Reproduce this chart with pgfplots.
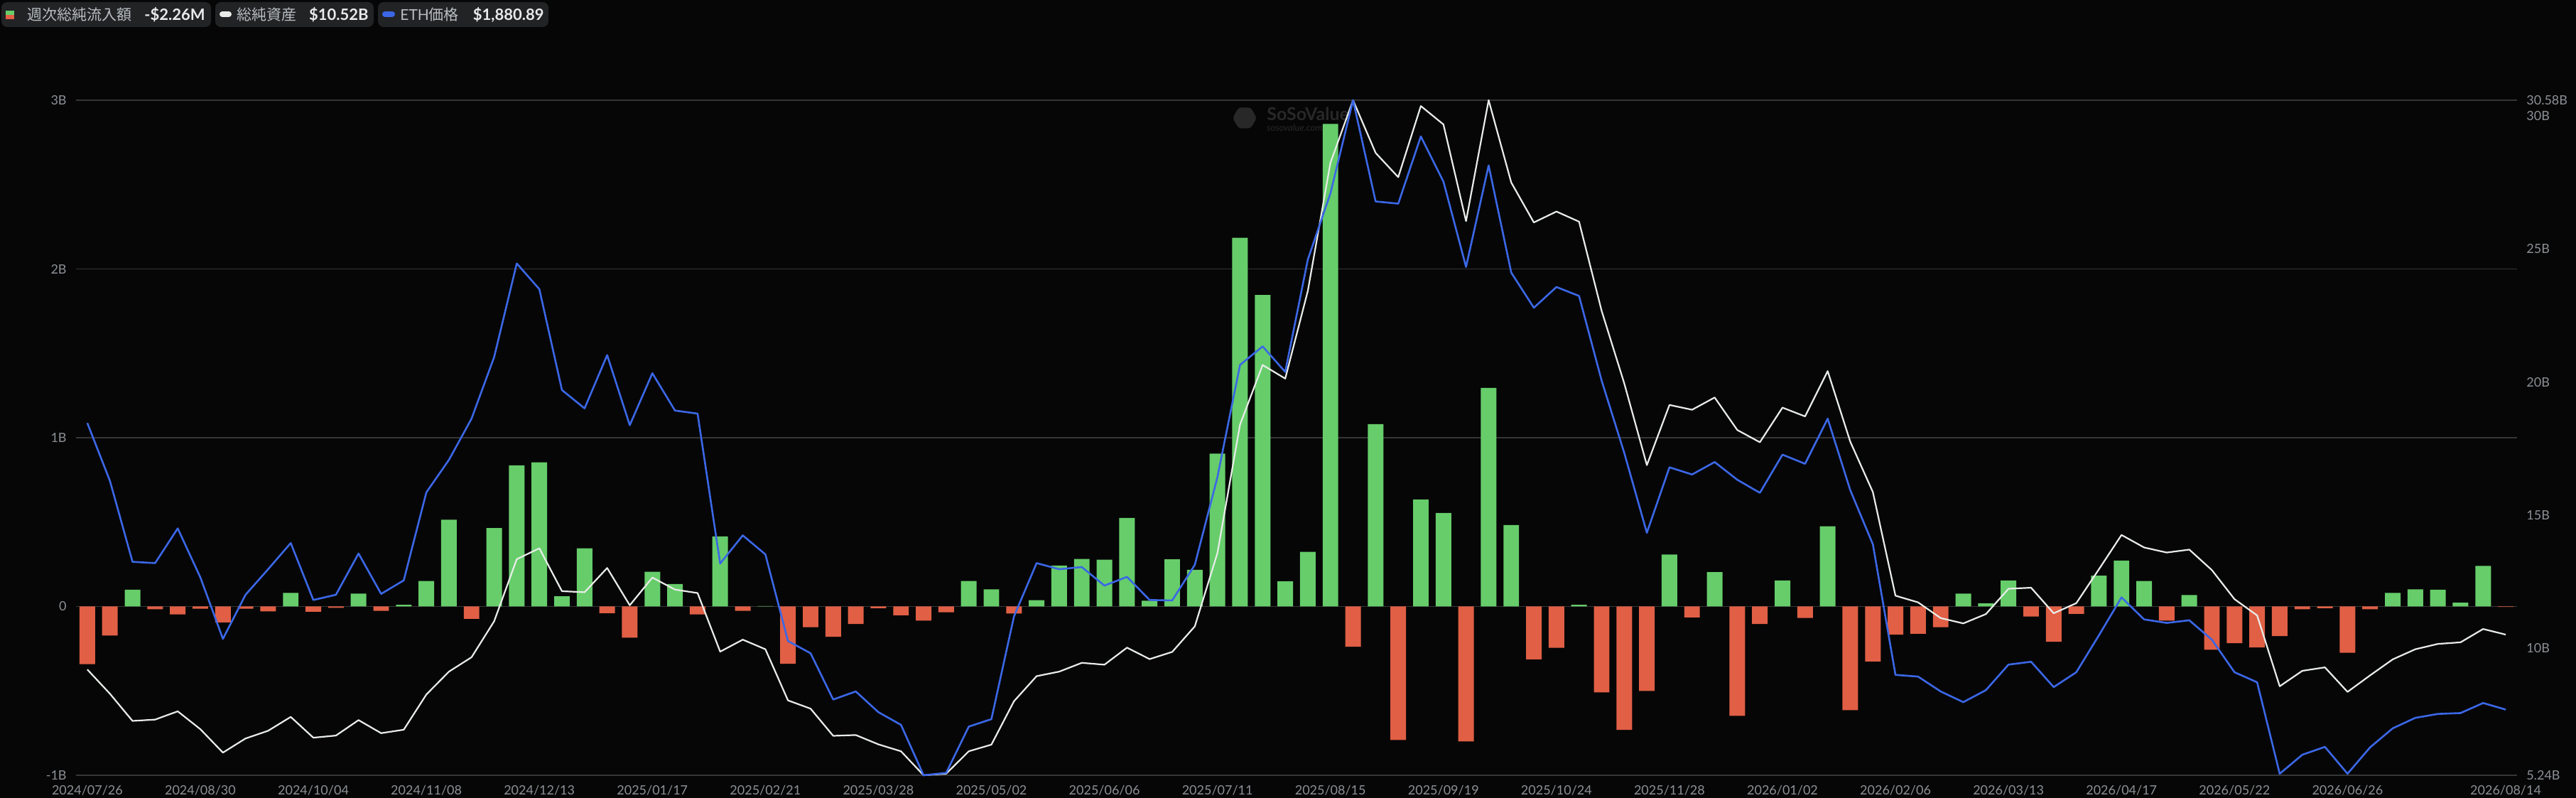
\documentclass[border=0pt]{standalone}
\usepackage{fontspec}
\setmainfont{Lato}
\newfontfamily\cjk{Noto Sans CJK JP}
\usepackage{pgfplots}
\usepackage{pgfplotstable}
\pgfplotsset{compat=1.18}
\usetikzlibrary{shapes.geometric}

\definecolor{bgc}{RGB}{6,6,6}
\definecolor{gridc}{RGB}{54,54,54}
\definecolor{tickc}{RGB}{140,144,149}
\definecolor{greenc}{RGB}{102,205,106}
\definecolor{redc}{RGB}{224,95,69}
\definecolor{whitec}{RGB}{232,236,232}
\definecolor{bluec}{RGB}{59,103,230}
\definecolor{boxc}{RGB}{33,35,37}
\definecolor{labc}{RGB}{185,190,195}
\definecolor{valc}{RGB}{232,234,236}
\definecolor{wmc}{RGB}{40,40,40}

% week index, weekly net inflow (B USD), total net assets (B USD), ETH price (USD)
\pgfplotstableread{
i flow assets eth
0 -0.342 9.21 3194
1 -0.172 8.30 2929
2 0.099 7.28 2558
3 -0.016 7.33 2552
4 -0.047 7.64 2711
5 -0.013 6.97 2487
6 -0.094 6.09 2205
7 -0.013 6.62 2407
8 -0.029 6.91 2524
9 0.081 7.43 2644
10 -0.031 6.65 2383
11 -0.008 6.73 2407
12 0.076 7.31 2596
13 -0.026 6.82 2411
14 0.010 6.95 2473
15 0.151 8.27 2876
16 0.514 9.13 3025
17 -0.073 9.67 3214
18 0.465 11.02 3496
19 0.836 13.35 3925
20 0.854 13.76 3807
21 0.060 12.15 3345
22 0.345 12.11 3261
23 -0.039 13.02 3505
24 -0.185 11.62 3184
25 0.206 12.66 3422
26 0.133 12.21 3251
27 -0.047 12.08 3237
28 0.415 9.88 2550
29 -0.026 10.33 2679
30 0.003 9.97 2592
31 -0.339 8.05 2195
32 -0.123 7.74 2139
33 -0.180 6.72 1927
34 -0.104 6.75 1964
35 -0.010 6.40 1869
36 -0.052 6.14 1811
37 -0.084 5.24 1580
38 -0.034 5.30 1591
39 0.151 6.14 1803
40 0.102 6.39 1837
41 -0.042 8.02 2308
42 0.037 8.96 2552
43 0.243 9.13 2524
44 0.282 9.46 2534
45 0.277 9.39 2449
46 0.525 10.03 2489
47 0.034 9.60 2383
48 0.279 9.87 2381
49 0.217 10.83 2544
50 0.906 13.58 2946
51 2.185 18.40 3460
52 1.846 20.64 3545
53 0.149 20.13 3428
54 0.324 23.42 3943
55 2.859 28.23 4246
56 -0.238 30.58 4673
57 1.081 28.60 4209
58 -0.791 27.69 4199
59 0.634 30.36 4507
60 0.554 29.67 4300
61 -0.799 26.04 3909
62 1.295 30.58 4374
63 0.483 27.49 3883
64 -0.313 25.99 3722
65 -0.245 26.40 3817
66 0.010 26.02 3776
67 -0.509 22.67 3388
68 -0.731 19.95 3057
69 -0.501 16.88 2691
70 0.308 19.14 2991
71 -0.065 18.96 2958
72 0.204 19.42 3015
73 -0.648 18.20 2934
74 -0.104 17.74 2874
75 0.154 19.04 3049
76 -0.068 18.71 3007
77 0.475 20.41 3214
78 -0.614 17.76 2886
79 -0.326 15.87 2638
80 -0.167 11.98 2040
81 -0.162 11.73 2032
82 -0.123 11.14 1964
83 0.076 10.94 1915
84 0.018 11.29 1970
85 0.154 12.24 2087
86 -0.060 12.28 2100
87 -0.209 11.32 1984
88 -0.044 11.70 2052
89 0.183 12.97 2221
90 0.272 14.26 2395
91 0.151 13.79 2294
92 -0.084 13.60 2278
93 0.068 13.71 2290
94 -0.256 12.94 2201
95 -0.217 11.85 2052
96 -0.243 11.24 2006
97 -0.175 8.58 1587
98 -0.016 9.16 1674
99 -0.010 9.29 1710
100 -0.274 8.37 1587
101 -0.016 8.99 1708
102 0.081 9.59 1795
103 0.102 9.97 1843
104 0.099 10.17 1861
105 0.023 10.23 1865
106 0.240 10.73 1911
107 -0.00226 10.52 1880.89
}\datatable

\begin{document}
\begin{tikzpicture}
\path[use as bounding box, fill=bgc] (0pt,0pt) rectangle (1813pt,561.5pt);

% legend
\fill[boxc, rounded corners=4pt] (1pt,542.5pt) rectangle (148.5pt,560pt);
\fill[boxc, rounded corners=4pt] (151.5pt,542.5pt) rectangle (263pt,560pt);
\fill[boxc, rounded corners=4pt] (266pt,542.5pt) rectangle (386pt,560pt);
\fill[greenc] (4pt,551pt) rectangle (10pt,554pt);
\fill[redc] (4pt,548pt) rectangle (10pt,551pt);
\draw[whitec, line width=4pt, line cap=round] (156.5pt,551.5pt) -- (161pt,551.5pt);
\draw[bluec, line width=4pt, line cap=round] (271pt,551.5pt) -- (276pt,551.5pt);
\node[anchor=base west, inner sep=0pt, text=labc, font=\fontsize{10.5}{12}\selectfont] at (19pt,547pt) {\cjk 週次総純流入額};
\node[anchor=base east, inner sep=0pt, text=valc, font=\fontsize{11}{12}\selectfont\bfseries] at (144.5pt,547pt) {-\$2.26M};
\node[anchor=base west, inner sep=0pt, text=labc, font=\fontsize{10.5}{12}\selectfont] at (166.5pt,547pt) {\cjk 総純資産};
\node[anchor=base east, inner sep=0pt, text=valc, font=\fontsize{11}{12}\selectfont\bfseries] at (259.5pt,547pt) {\$10.52B};
\node[anchor=base west, inner sep=0pt, text=labc, font=\fontsize{10.5}{12}\selectfont] at (281.5pt,547pt) {ETH{\cjk 価格}};
\node[anchor=base east, inner sep=0pt, text=valc, font=\fontsize{11}{12}\selectfont\bfseries] at (383pt,547pt) {\$1,880.89};

% watermark
\node[regular polygon, regular polygon sides=6, minimum size=17pt, fill=wmc, rounded corners=2pt, inner sep=0pt] at (876pt,478.5pt) {};
\node[anchor=base west, inner sep=0pt, text=wmc, font=\fontsize{12.5}{14}\selectfont\bfseries] at (891.5pt,476.5pt) {SoSoValue};
\node[anchor=base west, inner sep=0pt, text=wmc, font=\fontsize{6.5}{8}\selectfont\itshape] at (891.5pt,469pt) {sosovalue.com};

% bars: weekly net inflow (left axis)
\begin{axis}[
  at={(53.5pt,16pt)}, anchor=south west, scale only axis,
  width=1718pt, height=475pt,
  xmin=-0.5, xmax=107.5, ymin=-1, ymax=3,
  axis line style={draw=none}, major tick length=0pt,
  ytick={-1,0,1,2,3}, yticklabels={-1B,0,1B,2B,3B},
  ymajorgrids, grid style={line width=0.6pt, color=gridc},
  xtick={0,5,10,15,20,25,30,35,40,45,50,55,60,65,70,75,80,85,90,95,100,107},
  xticklabels={2024/07/26,2024/08/30,2024/10/04,2024/11/08,2024/12/13,2025/01/17,2025/02/21,2025/03/28,2025/05/02,2025/06/06,2025/07/11,2025/08/15,2025/09/19,2025/10/24,2025/11/28,2026/01/02,2026/02/06,2026/03/13,2026/04/17,2026/05/22,2026/06/26,2026/08/14},
  tick label style={font=\fontsize{9}{10}\selectfont, text=tickc},
  yticklabel style={anchor=east, inner sep=0pt, xshift=-6.5pt},
  xticklabel style={anchor=north, inner sep=0pt, yshift=-7pt},
  unbounded coords=discard,
  clip=false,
]
\addplot[ybar, bar width=0.69, bar shift=0pt, fill=greenc, draw=none,
  y filter/.expression={y>=0 ? y : nan}] table[x=i, y=flow] {\datatable};
\addplot[ybar, bar width=0.69, bar shift=0pt, fill=redc, draw=none,
  y filter/.expression={y<0 ? y : nan}] table[x=i, y=flow] {\datatable};
\end{axis}

% total net assets (right axis)
\begin{axis}[
  at={(53.5pt,16pt)}, anchor=south west, scale only axis,
  width=1718pt, height=475pt,
  xmin=-0.5, xmax=107.5, ymin=5.24, ymax=30.58,
  axis y line*=right, hide x axis,
  axis line style={draw=none}, major tick length=0pt,
  ytick={5.24,10,15,20,25,30,30.58},
  yticklabels={5.24B,10B,15B,20B,25B,30B,30.58B},
  tick label style={font=\fontsize{9}{10}\selectfont, text=tickc},
  yticklabel style={anchor=west, inner sep=0pt, xshift=6.5pt},
  clip=false,
]
\addplot[whitec, line width=1.1pt, line join=round, mark=none] table[x=i, y=assets] {\datatable};
\end{axis}

% ETH price (hidden axis)
\begin{axis}[
  at={(53.5pt,16pt)}, anchor=south west, scale only axis,
  width=1718pt, height=475pt,
  xmin=-0.5, xmax=107.5, ymin=1580, ymax=4673,
  hide axis, clip=false,
]
\addplot[bluec, line width=1.3pt, line join=round, mark=none] table[x=i, y=eth] {\datatable};
\end{axis}
\end{tikzpicture}
\end{document}
